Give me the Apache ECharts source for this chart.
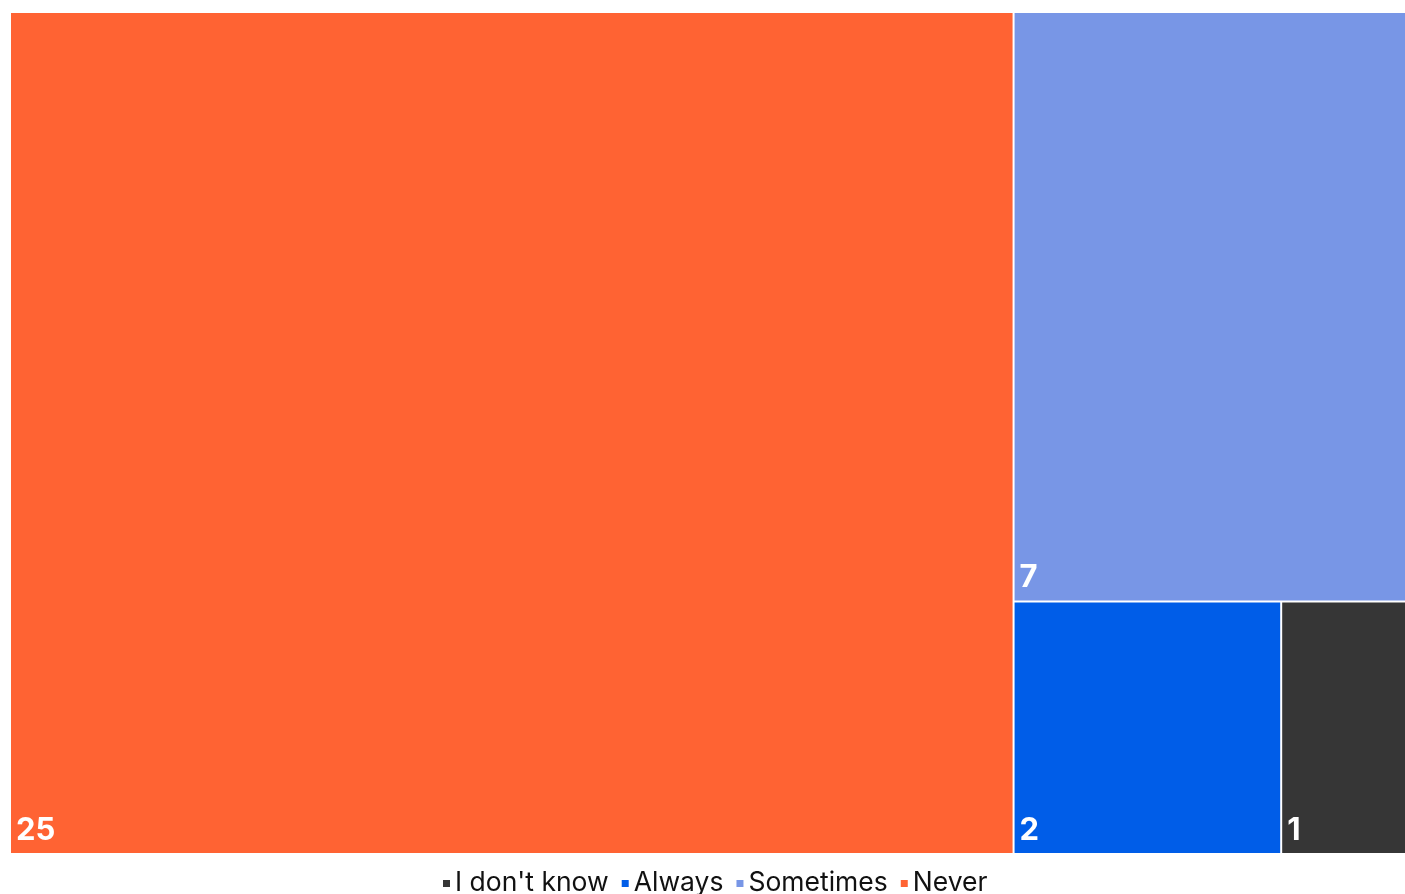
<!DOCTYPE html>
<html><head><meta charset="utf-8">
<script src="https://cdn.jsdelivr.net/npm/echarts@6/dist/echarts.min.js"></script>
<style>html,body{margin:0;padding:0;background:#fff}#c{width:1405px;height:894px}</style>
</head><body><div id="c"></div>
<script>
const categories = ["Never", "Sometimes", "Always", "I don't know"];
const values = [25, 7, 2, 1];
const colors = ["#FF6333", "#7896E6", "#005DE8", "#363636"];
const legendOrder = ["I don't know", "Always", "Sometimes", "Never"];

const chart = echarts.init(document.getElementById('c'));
const tmData = categories.map((n, i) => ({ name: n, value: values[i], itemStyle: { color: colors[i] } }));
chart.setOption({
  animation: false,
  textStyle: { fontFamily: 'Inter' },
  legend: {
    data: legendOrder,
    bottom: -8,
    left: 443,
    padding: [5, 0, 5, 0],
    icon: 'rect',
    itemWidth: 7,
    itemHeight: 7,
    itemGap: 13,
    textStyle: { fontSize: 26.5, color: '#111', fontFamily: 'Inter', padding: [0, 0, 0, 0] }
  },
  series: [
    {
      type: 'treemap',
      left: 11, top: 13, right: -9, bottom: 41,
      roam: false, nodeClick: false,
      breadcrumb: { show: false },
      squareRatio: 0.5 * (1 + Math.sqrt(5)),
      levels: [{ itemStyle: { borderWidth: 0, gapWidth: 2, borderColor: '#fff' } }],
      label: {
        show: true,
        position: 'insideBottomLeft',
        formatter: p => String(p.value),
        color: '#fff',
        fontSize: 31,
        fontWeight: 'bold',
        fontFamily: 'Inter',
        distance: 0,
        padding: 0,
        offset: [5, -7]
      },
      data: tmData
    },
    {
      type: 'pie',
      radius: [0, 0],
      center: [-100, -100],
      silent: true,
      label: { show: false },
      labelLine: { show: false },
      data: categories.map((n, i) => ({ name: n, value: values[i], itemStyle: { color: colors[i] } }))
    }
  ]
});
</script></body></html>
